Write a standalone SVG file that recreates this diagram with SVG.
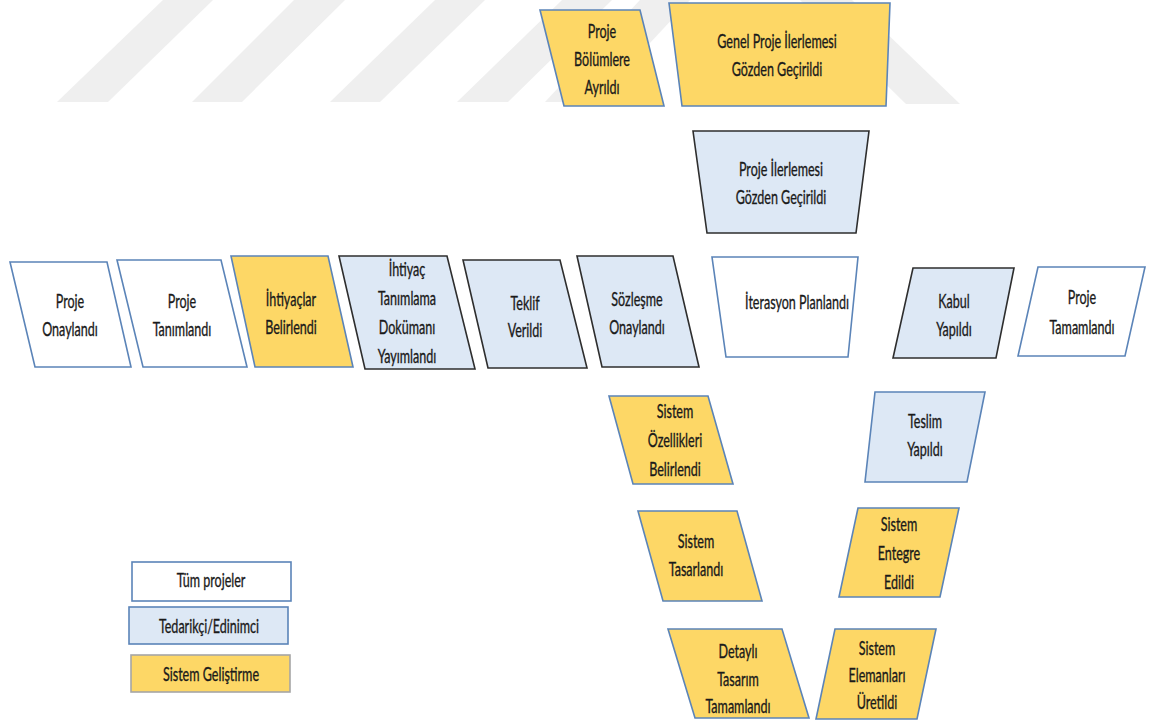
<svg xmlns="http://www.w3.org/2000/svg" width="1159" height="721" viewBox="0 0 1159 721">
  <style>
    .wm { fill: #efefef; }
    .all { fill: #ffffff; stroke: #5b84b8; stroke-width: 1.6; }
    .acq { fill: #dde8f5; stroke: #2e2e2e; stroke-width: 1.6; }
    .acqb { fill: #dde8f5; stroke: #5b84b8; stroke-width: 1.6; }
    .dev { fill: #fdd766; stroke: #5b84b8; stroke-width: 1.6; }
    .devg { fill: #fdd766; stroke: #a6a6a6; stroke-width: 1.6; }
    .lbl { font-family: Lato, "Open Sans", "Liberation Sans", sans-serif; font-size: 19px; fill: #1a1a1a; stroke: #1a1a1a; stroke-width: 0.35; text-anchor: middle; }
  </style>

  <!-- faint background watermark bands -->
  <g id="watermark">
    <polygon class="wm" points="57,102 108,102 213,0 163,0"/>
    <polygon class="wm" points="192,102 242,102 345,0 294,0"/>
    <polygon class="wm" points="330,102 380,102 485,0 435,0"/>
    <polygon class="wm" points="457,102 508,102 612,0 562,0"/>
    <polygon class="wm" points="545,102 595,102 690,0 640,0"/>
    <polygon class="wm" points="800,0 852,0 960,104 906,104"/>
  </g>

  <g id="connectors"/>

  <!-- top row -->
  <g id="proje-bolumlere-ayrildi">
    <polygon class="dev" points="540,10 640,10 664,106 564,106"/>
    <text class="lbl" transform="matrix(0.66 0 0 1 602 0)"><tspan x="0" y="38">Proje</tspan><tspan x="0" y="66">Bölümlere</tspan><tspan x="0" y="94">Ayrıldı</tspan></text>
  </g>
  <g id="genel-proje-ilerlemesi">
    <polygon class="dev" points="669,3 890,3 886,106 682,106"/>
    <text class="lbl" transform="matrix(0.66 0 0 1 777 0)"><tspan x="0" y="48">Genel Proje İlerlemesi</tspan><tspan x="0" y="76">Gözden Geçirildi</tspan></text>
  </g>
  <g id="proje-ilerlemesi">
    <polygon class="acq" points="693,131 869,131 856,233 707,233"/>
    <text class="lbl" transform="matrix(0.66 0 0 1 781 0)"><tspan x="0" y="176">Proje İlerlemesi</tspan><tspan x="0" y="204">Gözden Geçirildi</tspan></text>
  </g>

  <!-- middle row -->
  <g id="proje-onaylandi">
    <polygon class="all" points="10,262 107,262 131,367 35,367"/>
    <text class="lbl" transform="matrix(0.66 0 0 1 70 0)"><tspan x="0" y="308">Proje</tspan><tspan x="0" y="336">Onaylandı</tspan></text>
  </g>
  <g id="proje-tanimlandi">
    <polygon class="all" points="117,260 221,260 247,367 143,367"/>
    <text class="lbl" transform="matrix(0.66 0 0 1 182 0)"><tspan x="0" y="308">Proje</tspan><tspan x="0" y="336">Tanımlandı</tspan></text>
  </g>
  <g id="ihtiyaclar-belirlendi">
    <polygon class="dev" points="231,256 328,256 353,367 255,367"/>
    <text class="lbl" transform="matrix(0.66 0 0 1 291 0)"><tspan x="0" y="306">İhtiyaçlar</tspan><tspan x="0" y="334">Belirlendi</tspan></text>
  </g>
  <g id="ihtiyac-tanimlama">
    <polygon class="acq" points="339,256 447,256 475,369 365,369"/>
    <text class="lbl" transform="matrix(0.66 0 0 1 407 0)"><tspan x="0" y="276">İhtiyaç</tspan><tspan x="0" y="305">Tanımlama</tspan><tspan x="0" y="334">Dokümanı</tspan><tspan x="0" y="363">Yayımlandı</tspan></text>
  </g>
  <g id="teklif-verildi">
    <polygon class="acq" points="463,260 560,260 587,368 488,368"/>
    <text class="lbl" transform="matrix(0.66 0 0 1 525 0)"><tspan x="0" y="310">Teklif</tspan><tspan x="0" y="337">Verildi</tspan></text>
  </g>
  <g id="sozlesme-onaylandi">
    <polygon class="acq" points="577,256 673,256 699,367 602,367"/>
    <text class="lbl" transform="matrix(0.66 0 0 1 637 0)"><tspan x="0" y="306">Sözleşme</tspan><tspan x="0" y="334">Onaylandı</tspan></text>
  </g>
  <g id="iterasyon-planlandi">
    <polygon class="all" points="712,257 858,257 848,357 726,357"/>
    <text class="lbl" transform="matrix(0.66 0 0 1 797 0)"><tspan x="0" y="309">İterasyon Planlandı</tspan></text>
  </g>
  <g id="kabul-yapildi">
    <polygon class="acq" points="913,268 1014,268 996,358 893,358"/>
    <text class="lbl" transform="matrix(0.66 0 0 1 954 0)"><tspan x="0" y="308">Kabul</tspan><tspan x="0" y="336">Yapıldı</tspan></text>
  </g>
  <g id="proje-tamamlandi">
    <polygon class="all" points="1038,267 1145,267 1125,356 1018,356"/>
    <text class="lbl" transform="matrix(0.66 0 0 1 1082 0)"><tspan x="0" y="304">Proje</tspan><tspan x="0" y="334">Tamamlandı</tspan></text>
  </g>

  <!-- descending branch -->
  <g id="sistem-ozellikleri">
    <polygon class="dev" points="609,396 708,396 733,484 633,484"/>
    <text class="lbl" transform="matrix(0.66 0 0 1 675 0)"><tspan x="0" y="418">Sistem</tspan><tspan x="0" y="447">Özellikleri</tspan><tspan x="0" y="476">Belirlendi</tspan></text>
  </g>
  <g id="sistem-tasarlandi">
    <polygon class="dev" points="638,511 737,511 762,601 663,601"/>
    <text class="lbl" transform="matrix(0.66 0 0 1 696 0)"><tspan x="0" y="548">Sistem</tspan><tspan x="0" y="576">Tasarlandı</tspan></text>
  </g>
  <g id="detayli-tasarim">
    <polygon class="dev" points="668,629 782,629 809,718 695,718"/>
    <text class="lbl" transform="matrix(0.66 0 0 1 738 0)"><tspan x="0" y="658">Detaylı</tspan><tspan x="0" y="686">Tasarım</tspan><tspan x="0" y="713">Tamamlandı</tspan></text>
  </g>

  <!-- ascending branch -->
  <g id="sistem-elemanlari">
    <polygon class="dev" points="835,629 936,629 917,719 816,719"/>
    <text class="lbl" transform="matrix(0.66 0 0 1 877 0)"><tspan x="0" y="655">Sistem</tspan><tspan x="0" y="682">Elemanları</tspan><tspan x="0" y="709">Üretildi</tspan></text>
  </g>
  <g id="sistem-entegre">
    <polygon class="dev" points="858,508 959,508 940,597 839,597"/>
    <text class="lbl" transform="matrix(0.66 0 0 1 899 0)"><tspan x="0" y="531">Sistem</tspan><tspan x="0" y="560">Entegre</tspan><tspan x="0" y="589">Edildi</tspan></text>
  </g>
  <g id="teslim-yapildi">
    <polygon class="acqb" points="875,392 985,392 967,482 865,482"/>
    <text class="lbl" transform="matrix(0.66 0 0 1 925 0)"><tspan x="0" y="428">Teslim</tspan><tspan x="0" y="456">Yapıldı</tspan></text>
  </g>

  <!-- legend -->
  <g id="legend-tum-projeler">
    <rect class="all" x="132" y="562" width="159" height="39"/>
    <text class="lbl" transform="matrix(0.66 0 0 1 211 0)"><tspan x="0" y="587">Tüm projeler</tspan></text>
  </g>
  <g id="legend-tedarikci">
    <rect class="acqb" x="129" y="607" width="159" height="37"/>
    <text class="lbl" transform="matrix(0.66 0 0 1 209 0)"><tspan x="0" y="633">Tedarikçi/Edinimci</tspan></text>
  </g>
  <g id="legend-sistem-gelistirme">
    <rect class="devg" x="131" y="655" width="159" height="37"/>
    <text class="lbl" transform="matrix(0.66 0 0 1 211 0)"><tspan x="0" y="681">Sistem Geliştirme</tspan></text>
  </g>
</svg>
